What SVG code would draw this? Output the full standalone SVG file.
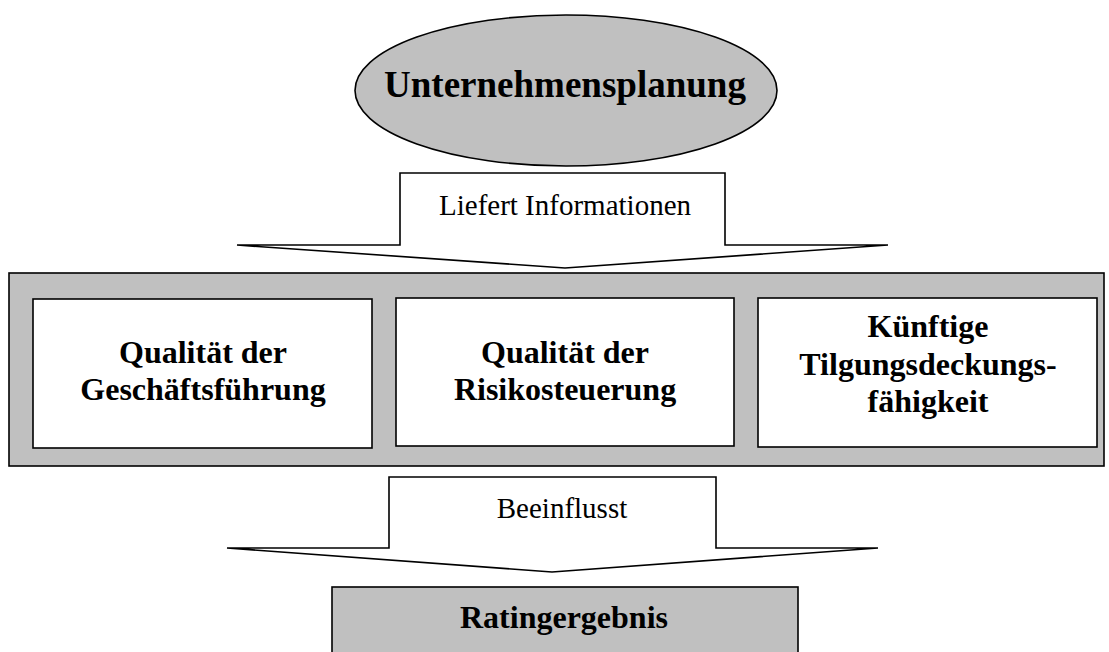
<svg xmlns="http://www.w3.org/2000/svg" width="1109" height="652" viewBox="0 0 1109 652">
<style>
.shape{stroke:#000;stroke-width:1.6}
.gray{fill:#c0c0c0}
.white{fill:#fff}
.bold{font-family:"Liberation Serif","Times New Roman",serif;font-weight:bold;fill:#000;text-anchor:middle}
.reg{font-family:"Liberation Serif","Times New Roman",serif;fill:#000;text-anchor:middle}
</style>
<rect width="1109" height="652" fill="#fff"/>
<g id="planung">
<ellipse class="shape gray" cx="566" cy="90.5" rx="211" ry="75.5"/>
<text class="bold" x="565" y="97" font-size="37">Unternehmensplanung</text>
</g>
<g id="connectors">
<g id="arrow-liefert">
<path class="shape white" d="M400,173 H725 V245 H888 L565,268 L237,245 H400 Z"/>
<text class="reg" x="565" y="215" font-size="29">Liefert Informationen</text>
</g>
<g id="arrow-beeinflusst">
<path class="shape white" d="M389,477 H716 V548 H878 L552,572 L227,548 H389 Z"/>
<text class="reg" x="562" y="518" font-size="29">Beeinflusst</text>
</g>
</g>
<g id="frame">
<rect class="shape gray" x="9" y="273" width="1095" height="193"/>
</g>
<g id="geschaeftsfuehrung">
<rect class="shape white" x="33" y="299" width="339" height="149"/>
<text class="bold" x="203" y="363" font-size="32">Qualität der</text>
<text class="bold" x="203" y="400" font-size="32">Geschäftsführung</text>
</g>
<g id="risikosteuerung">
<rect class="shape white" x="396" y="298" width="338" height="148"/>
<text class="bold" x="565" y="363" font-size="32">Qualität der</text>
<text class="bold" x="565" y="400" font-size="32">Risikosteuerung</text>
</g>
<g id="tilgung">
<rect class="shape white" x="758" y="298" width="339" height="149"/>
<text class="bold" x="928" y="337" font-size="32">Künftige</text>
<text class="bold" x="928" y="375" font-size="32">Tilgungsdeckungs-</text>
<text class="bold" x="928" y="412" font-size="32">fähigkeit</text>
</g>
<g id="rating">
<rect class="shape gray" x="332" y="587" width="466" height="80"/>
<text class="bold" x="564" y="628" font-size="32">Ratingergebnis</text>
</g>
</svg>
